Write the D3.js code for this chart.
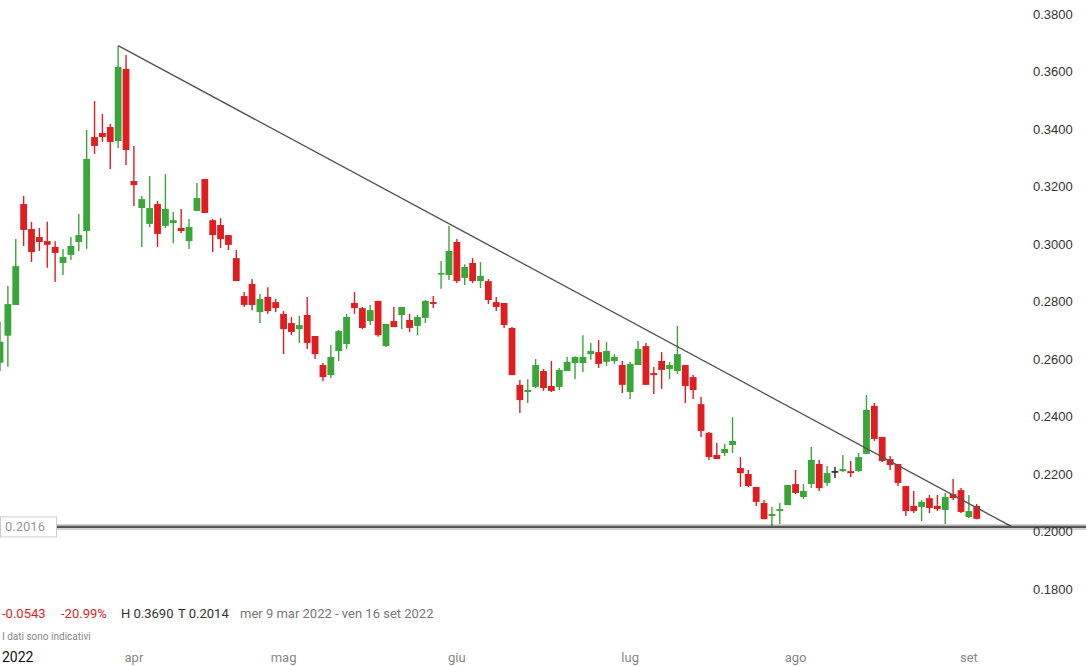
<!DOCTYPE html>
<html>
<head>
<meta charset="utf-8">
<script src="https://cdn.jsdelivr.net/npm/d3@7"></script>
<style>
  body { margin: 0; background: #fff; }
  svg { display: block; }
</style>
</head>
<body>
<svg id="chart" width="1086" height="666"></svg>
<script>
// daily candles, 9 mar 2022 -> 2 set 2022 (trading days)
const opens = [
  0.2587,0.2681,0.2788,0.3139,0.3052,0.3024,0.3010,0.2990,0.2934,0.2962,
  0.3007,0.3045,0.3372,0.3386,0.3407,0.3358,0.3609,0.3219,0.3125,0.3070,
  0.3139,0.3063,0.3073,0.3056,0.3010,0.3115,0.3226,0.3083,0.3066,0.3031,
  0.2951,0.2819,0.2861,0.2763,0.2816,0.2798,0.2757,0.2725,0.2704,0.2753,
  0.2680,0.2579,0.2544,0.2628,0.2652,0.2795,0.2777,0.2732,0.2802,0.2645,
  0.2732,0.2753,0.2736,0.2715,0.2743,0.2798,0.2896,0.2892,0.3007,0.2882,
  0.2934,0.2871,0.2871,0.2798,0.2795,0.2708,0.2510,0.2485,0.2503,0.2558,
  0.2506,0.2503,0.2558,0.2586,0.2586,0.2617,0.2624,0.2590,0.2593,0.2579,
  0.2485,0.2579,0.2645,0.2551,0.2593,0.2565,0.2558,0.2579,0.2537,0.2443,
  0.2343,0.2266,0.2273,0.2301,0.2221,0.2200,0.2155,0.2099,0.2054,0.2071,
  0.2092,0.2165,0.2120,0.2165,0.2235,0.2169,0.2210,0.2210,0.2210,0.2210,
  0.2270,0.2437,0.2329,0.2252,0.2235,0.2158,0.2089,0.2085,0.2116,0.2089,
  0.2075,0.2130,0.2144,0.2050,0.2089
];
const highs = [
  0.2730,0.2854,0.3017,0.3167,0.3077,0.3056,0.3077,0.3010,0.2983,0.3024,
  0.3104,0.3397,0.3497,0.3452,0.3417,0.3690,0.3657,0.3341,0.3167,0.3236,
  0.3150,0.3243,0.3111,0.3122,0.3087,0.3212,0.3226,0.3087,0.3090,0.3031,
  0.2979,0.2833,0.2878,0.2826,0.2850,0.2809,0.2767,0.2746,0.2750,0.2816,
  0.2680,0.2586,0.2649,0.2701,0.2757,0.2833,0.2781,0.2788,0.2802,0.2722,
  0.2781,0.2781,0.2757,0.2753,0.2805,0.2819,0.2941,0.3063,0.3017,0.2930,
  0.2951,0.2937,0.2878,0.2816,0.2795,0.2711,0.2527,0.2530,0.2600,0.2565,
  0.2593,0.2569,0.2607,0.2610,0.2683,0.2656,0.2666,0.2659,0.2617,0.2593,
  0.2590,0.2663,0.2656,0.2572,0.2624,0.2590,0.2715,0.2579,0.2544,0.2468,
  0.2346,0.2308,0.2304,0.2398,0.2259,0.2214,0.2155,0.2110,0.2085,0.2099,
  0.2162,0.2214,0.2165,0.2294,0.2249,0.2228,0.2224,0.2266,0.2245,0.2273,
  0.2475,0.2447,0.2329,0.2263,0.2235,0.2158,0.2141,0.2110,0.2127,0.2127,
  0.2134,0.2183,0.2151,0.2127,0.2096
];
const lows = [
  0.2558,0.2573,0.2788,0.2993,0.2937,0.2976,0.2917,0.2868,0.2892,0.2944,
  0.2976,0.2983,0.3313,0.3355,0.3261,0.3334,0.3275,0.3132,0.2990,0.3059,
  0.2990,0.3056,0.3003,0.3038,0.2983,0.3115,0.3108,0.2972,0.2986,0.2979,
  0.2871,0.2781,0.2770,0.2725,0.2757,0.2763,0.2617,0.2683,0.2656,0.2635,
  0.2600,0.2523,0.2534,0.2593,0.2635,0.2757,0.2704,0.2718,0.2677,0.2642,
  0.2711,0.2704,0.2694,0.2683,0.2725,0.2777,0.2844,0.2875,0.2864,0.2857,
  0.2864,0.2847,0.2791,0.2767,0.2708,0.2544,0.2412,0.2447,0.2499,0.2489,
  0.2485,0.2492,0.2558,0.2530,0.2555,0.2597,0.2569,0.2576,0.2583,0.2482,
  0.2461,0.2579,0.2510,0.2478,0.2496,0.2530,0.2548,0.2447,0.2461,0.2329,
  0.2249,0.2252,0.2263,0.2273,0.2155,0.2155,0.2089,0.2043,0.2014,0.2026,
  0.2092,0.2130,0.2113,0.2151,0.2141,0.2158,0.2186,0.2207,0.2190,0.2207,
  0.2270,0.2315,0.2242,0.2214,0.2158,0.2054,0.2064,0.2036,0.2064,0.2071,
  0.2026,0.2110,0.2064,0.2047,0.2043
];
const closes = [
  0.2660,0.2791,0.2923,0.3049,0.2972,0.3007,0.2997,0.2969,0.2955,0.2993,
  0.3031,0.3296,0.3341,0.3372,0.3355,0.3616,0.3327,0.3205,0.3156,0.3125,
  0.3035,0.3122,0.3083,0.3045,0.3059,0.3160,0.3108,0.3031,0.3017,0.2997,
  0.2871,0.2788,0.2788,0.2809,0.2767,0.2777,0.2704,0.2694,0.2718,0.2656,
  0.2617,0.2537,0.2607,0.2697,0.2746,0.2777,0.2708,0.2770,0.2683,0.2722,
  0.2711,0.2781,0.2708,0.2746,0.2802,0.2791,0.2899,0.2976,0.2871,0.2920,
  0.2871,0.2889,0.2805,0.2781,0.2718,0.2544,0.2457,0.2492,0.2579,0.2499,
  0.2489,0.2562,0.2590,0.2607,0.2607,0.2628,0.2583,0.2628,0.2607,0.2510,
  0.2583,0.2635,0.2510,0.2544,0.2562,0.2579,0.2617,0.2506,0.2492,0.2350,
  0.2259,0.2252,0.2287,0.2315,0.2203,0.2158,0.2103,0.2043,0.2061,0.2078,
  0.2162,0.2134,0.2141,0.2249,0.2151,0.2203,0.2210,0.2217,0.2203,0.2259,
  0.2423,0.2322,0.2245,0.2231,0.2169,0.2071,0.2071,0.2103,0.2082,0.2078,
  0.2120,0.2116,0.2068,0.2071,0.2044
];

// x axis: first trading day of each month (candle index)
const monthLabels = ["2022", "apr", "mag", "giu", "lug", "ago", "set"];
const monthStartIdx = [0, 17, 36, 58, 80, 101, 123];

const yTicks = [0.18, 0.20, 0.22, 0.24, 0.26, 0.28, 0.30, 0.32, 0.34, 0.36, 0.38];

// drawn lines
const supportLevel = 0.2016;
const trendIdx = [15, 128.5];
const trendVal = [0.3690, 0.2016];

const periodText = "mer 9 mar 2022 - ven 16 set 2022";

const GREEN = "#3aa63a", RED = "#e01e22", DOJI = "#222";

const svg = d3.select("#chart");
const W = 1086, H = 666;

const x = d3.scaleLinear().domain([0, 130]).range([0, 1024]);
const y = d3.scaleLinear().domain([0.18, 0.38]).range([589, 14]);

let candles = opens.map(function(o, i){
  return {i: i, o: o, h: highs[i], l: lows[i], c: closes[i]};
});

// candles
const bodyW = 6.8;
const cg = svg.append("g").attr("class", "candles");
const cs = cg.selectAll("g").data(candles).enter().append("g");

function colorOf(d){
  if(d.c > d.o) return GREEN;
  if(d.c < d.o) return RED;
  return DOJI;
}

cs.append("line")
  .attr("x1", d => x(d.i)).attr("x2", d => x(d.i))
  .attr("y1", d => y(d.h)).attr("y2", d => y(d.l))
  .attr("stroke", colorOf).attr("stroke-width", 1.4);

cs.append("rect")
  .attr("x", d => x(d.i) - bodyW/2)
  .attr("width", bodyW)
  .attr("y", d => y(Math.max(d.o, d.c)))
  .attr("height", function(d){
    return Math.max(1.6, Math.abs(y(d.o) - y(d.c)));
  })
  .attr("fill", colorOf);

// trend line
const trend = trendIdx.map((t, k) => [x(t), y(trendVal[k])]);
svg.append("path")
  .attr("d", d3.line()(trend))
  .attr("fill", "none")
  .attr("stroke", "#555")
  .attr("stroke-width", 1.4);

// support level
const ys = y(supportLevel);
svg.append("line")
  .attr("x1", 57).attr("x2", W).attr("y1", ys).attr("y2", ys)
  .attr("stroke", "#000").attr("stroke-opacity", 0.18).attr("stroke-width", 6);
svg.append("line")
  .attr("x1", 57).attr("x2", W).attr("y1", ys).attr("y2", ys)
  .attr("stroke", "#555").attr("stroke-width", 2.4);

svg.append("rect")
  .attr("x", 0.5).attr("y", ys - 10).attr("width", 56).attr("height", 20)
  .attr("fill", "#fff").attr("stroke", "#ccc");
svg.append("text")
  .attr("x", 5).attr("y", ys + 4.5)
  .attr("font-family", "Roboto, sans-serif").attr("font-size", 13)
  .attr("fill", "#999")
  .text(d3.format(".4f")(supportLevel));

// y axis on the right
const yAxis = d3.axisRight(y).tickValues(yTicks).tickFormat(d3.format(".4f")).tickSize(0).tickPadding(0);
const ya = svg.append("g").attr("transform", "translate(1033,0)").call(yAxis);
ya.select(".domain").remove();
ya.selectAll("text")
  .attr("font-family", "'Liberation Sans', Arial, sans-serif")
  .attr("font-size", 13)
  .attr("fill", "#333");

// x axis labels
const xl = svg.append("g").attr("class", "months");
xl.selectAll("text").data(monthLabels).enter().append("text")
  .attr("x", (d, k) => k === 0 ? 2 : x(monthStartIdx[k]))
  .attr("y", 662)
  .attr("text-anchor", (d, k) => k === 0 ? "start" : "middle")
  .attr("font-family", "Roboto, sans-serif")
  .attr("font-size", (d, k) => k === 0 ? 14 : 13)
  .attr("fill", (d, k) => k === 0 ? "#111" : "#888")
  .text(d => d);

// summary line
const first = opens[0], last = closes[closes.length - 1];
const chg = last - first;
const pct = chg / first * 100;
const hi = d3.max(highs), lo = d3.min(lows);
const f4 = d3.format(".4f");

const infoItems = [
  {t: f4(chg).replace("−", "-"), x: 2, c: RED},
  {t: pct.toFixed(2) + "%", x: 61, c: RED},
  {t: "H " + f4(hi), x: 121, c: "#333"},
  {t: "T " + f4(lo), x: 178, c: "#333"},
  {t: periodText, x: 240, c: "#777"}
];
svg.append("g").selectAll("text").data(infoItems).enter().append("text")
  .attr("x", d => d.x).attr("y", 618)
  .attr("font-family", "Roboto, sans-serif")
  .attr("font-size", 13)
  .attr("fill", d => d.c)
  .text(d => d.t);

svg.append("text")
  .attr("x", 2).attr("y", 640)
  .attr("font-family", "Roboto, sans-serif")
  .attr("font-size", 10)
  .attr("fill", "#888")
  .text("I dati sono indicativi");
</script>
</body>
</html>
